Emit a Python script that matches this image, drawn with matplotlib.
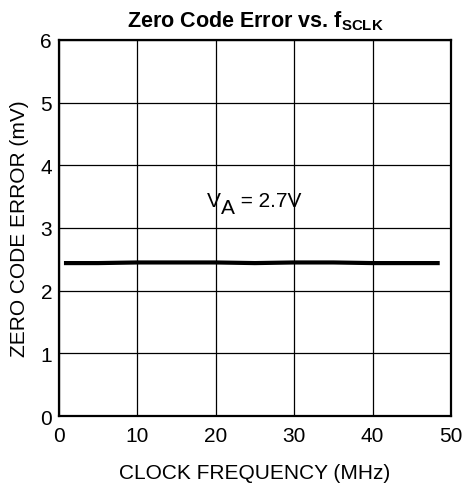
import matplotlib
matplotlib.use('Agg')
import matplotlib.pyplot as plt

plt.rcParams['font.family'] = ['Liberation Sans', 'DejaVu Sans']
plt.rcParams['mathtext.fontset'] = 'custom'
plt.rcParams['mathtext.rm'] = 'Liberation Sans'
plt.rcParams['mathtext.it'] = 'Liberation Sans'
plt.rcParams['mathtext.bf'] = 'Liberation Sans:bold'

# donnees
freq = [0.9, 5, 10, 15, 20, 25, 30, 35, 40, 45, 48.3]
erreur = [2.44, 2.44, 2.45, 2.45, 2.45, 2.44, 2.45, 2.45, 2.44, 2.44, 2.44]
x_ticks = [0, 10, 20, 30, 40, 50]
y_ticks = [0, 1, 2, 3, 4, 5, 6]

fig = plt.figure(figsize=(4.63, 4.85), dpi=100)
ax = fig.add_axes([0.1274, 0.1402, 0.974 - 0.1274, 0.9155 - 0.1402])

ax.plot(freq, erreur, color='black', lw=3)

# etiquette V_A = 2.7V (indice de meme taille, decale vers le bas)
x0, y0 = 18.9, 3.35
ax.annotate('V', (x0, y0), xytext=(0, 0), textcoords='offset points',
            va='baseline', ha='left', fontsize=15)
ax.annotate('A', (x0, y0), xytext=(10, -5), textcoords='offset points',
            va='baseline', ha='left', fontsize=15)
ax.annotate(' = 2.7V', (x0, y0), xytext=(20, 0), textcoords='offset points',
            va='baseline', ha='left', fontsize=15)

ax.set_xlim(0, 50)
ax.set_ylim(0, 6)
ax.set_xticks(x_ticks)
ax.set_yticks(y_ticks)
ax.grid(True, color='black', lw=0.9)
ax.tick_params(length=0, labelsize=15)
ax.tick_params(axis='x', pad=7)
ax.tick_params(axis='y', pad=5)
for s in ax.spines.values():
    s.set_linewidth(1.6)

ax.set_xlabel('CLOCK FREQUENCY (MHz)', fontsize=15, labelpad=13)
ax.set_ylabel('ZERO CODE ERROR (mV)', fontsize=15, labelpad=8)
ax.set_title(r'Zero Code Error vs. f$_{\mathbf{SCLK}}$', fontsize=15.5, fontweight='bold', pad=10)

fig.savefig('out.png', dpi=100)
